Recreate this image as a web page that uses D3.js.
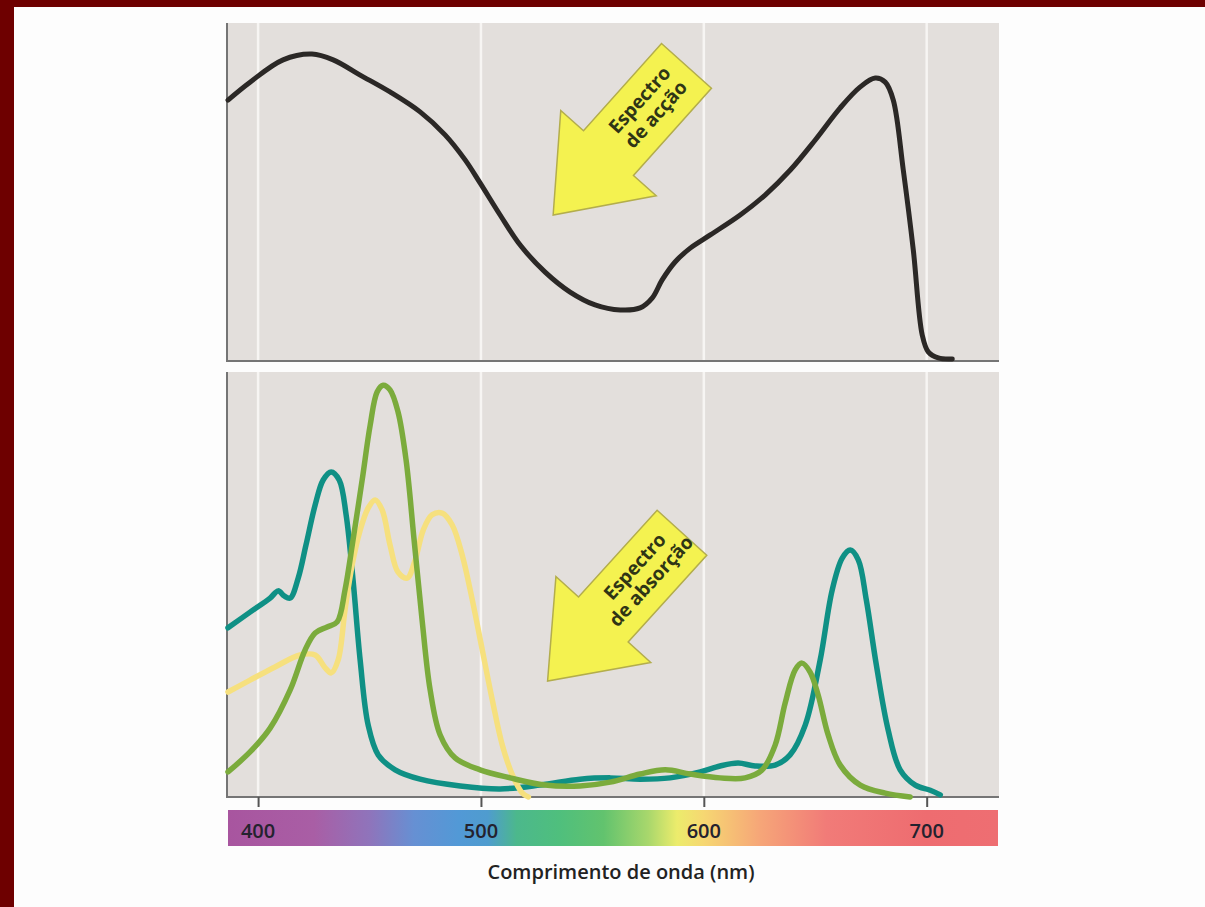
<!DOCTYPE html>
<html>
<head>
<meta charset="utf-8">
<script src="https://cdn.jsdelivr.net/npm/d3@7"></script>
<style>
  body { margin: 0; background: #fdfdfd; }
  svg { display: block; }
  text { font-family: "Open Sans", "DejaVu Sans", sans-serif; }
</style>
</head>
<body>
<script>
var W = 1205, H = 907;

// wavelength ticks
var tickNm = [400, 500, 600, 700];

// action spectrum (top panel), relative units 0-100
var actionNm = [386.5, 396.4, 411.2, 424.2, 433.7, 445.8, 459.2, 472.7, 483.9, 492.9, 499.6, 508.6, 517.6, 528.8, 540.0, 551.2, 562.5, 571.4, 576.8, 581.3, 587.1, 593.9, 602.9, 616.3, 627.5, 638.8, 650.0, 661.2, 670.2, 676.9, 681.4, 685.0, 689.5, 694.0, 698.0, 700.7, 705.2, 711.5];
var actionVal = [77.2, 82.5, 89.1, 90.8, 89.1, 84.6, 79.6, 73.7, 66.9, 59.5, 52.7, 43.2, 34.3, 26.3, 20.4, 16.6, 15.1, 15.7, 18.6, 24.0, 29.3, 33.4, 37.3, 43.2, 49.1, 56.5, 65.4, 74.9, 81.1, 83.7, 82.5, 77.2, 56.5, 32.8, 7.7, 2.7, 0.9, 0.6];

// absorption spectra (bottom panel), relative units 0-100
var chlANm = [386.5, 396.4, 405.4, 409.0, 411.7, 414.4, 418.0, 421.5, 425.6, 429.2, 432.8, 436.4, 439.5, 442.6, 445.8, 449.4, 453.9, 461.5, 472.7, 490.7, 508.6, 526.6, 544.5, 558.0, 571.4, 584.9, 598.4, 607.3, 615.4, 623.0, 632.0, 638.7, 645.5, 652.2, 657.6, 662.1, 665.7, 669.3, 672.9, 677.4, 682.7, 688.1, 694.9, 701.6, 706.1];
var chlAVal = [39.8, 43.5, 46.8, 48.5, 47.3, 46.8, 51.5, 59.3, 68.7, 74.6, 76.5, 74.6, 66.4, 51.1, 32.2, 16.9, 9.9, 6.4, 4.2, 2.6, 1.9, 2.8, 4.2, 4.5, 4.2, 4.5, 5.9, 7.3, 8.0, 7.3, 7.5, 9.9, 16.9, 32.2, 48.7, 56.2, 58.1, 55.8, 46.4, 31.1, 15.8, 6.4, 2.8, 1.6, 0.5];

var chlBNm = [386.5, 396.4, 405.4, 414.4, 421.1, 425.6, 431.0, 435.5, 439.0, 442.6, 446.7, 450.3, 453.4, 456.1, 459.2, 462.8, 466.4, 470.0, 473.6, 477.2, 481.7, 488.4, 499.6, 513.1, 528.8, 544.5, 558.0, 571.4, 582.7, 593.9, 607.3, 618.5, 626.2, 632.0, 636.5, 641.0, 644.1, 647.7, 651.3, 655.8, 661.2, 670.2, 681.4, 692.6];
var chlBVal = [5.9, 10.6, 16.2, 25.2, 34.6, 38.6, 40.0, 41.2, 48.7, 60.5, 74.6, 87.5, 95.3, 96.9, 95.8, 90.6, 79.3, 60.5, 41.6, 25.2, 14.6, 9.2, 6.4, 4.5, 2.8, 2.6, 3.5, 5.4, 6.4, 5.4, 4.5, 4.5, 6.4, 12.2, 22.1, 29.9, 31.5, 29.4, 24.0, 14.6, 7.5, 2.8, 0.9, 0];

var carotNm = [386.5, 396.4, 407.6, 418.8, 425.6, 430.1, 432.8, 435.9, 439.0, 442.2, 445.8, 449.4, 452.5, 455.7, 459.2, 462.8, 466.9, 470.5, 474.1, 478.1, 482.6, 487.1, 491.6, 496.1, 500.6, 505.1, 509.6, 514.1, 518.6, 521.3];
var carotVal = [24.7, 27.5, 30.6, 33.4, 33.4, 30.4, 29.2, 32.2, 44.0, 54.6, 62.8, 68.0, 69.9, 67.5, 59.3, 52.9, 51.5, 55.8, 62.8, 66.4, 66.8, 64.0, 56.9, 46.4, 34.6, 22.8, 12.2, 5.2, 0.9, 0];

// visible spectrum bar
var specNm = [386.5, 425, 450, 470, 490, 503, 516, 535, 555, 575, 588, 600, 625, 655, 700, 732];
var specColor = ["#a8559f", "#a95ea5", "#8f74bb", "#6690d3", "#5299d6", "#4f9ccf", "#4cb88c", "#4fbf7d", "#62c36e", "#a8d76c", "#ecec6c", "#f6d772", "#f6a678", "#f17b78", "#ee6c70", "#ee6e72"];

var svg = d3.select("body").append("svg")
  .attr("width", W)
  .attr("height", H);

svg.append("rect").attr("width", W).attr("height", H).attr("fill", "#fdfdfd");
// dark red frame
svg.append("rect").attr("x", 0).attr("y", 0).attr("width", W).attr("height", 7).attr("fill", "#6e0000");
svg.append("rect").attr("x", 0).attr("y", 0).attr("width", 14).attr("height", H).attr("fill", "#6e0000");

var left = 228, right = 998;
var x = d3.scaleLinear().domain([386.5, 732]).range([left, right]);
var yTop = d3.scaleLinear().domain([0, 100]).range([361, 23]);
var yBot = d3.scaleLinear().domain([0, 100]).range([797, 372]);

function panel(y) {
  var g = svg.append("g");
  var y0 = y.range()[1], y1 = y.range()[0];
  g.append("rect")
    .attr("x", left).attr("y", y0)
    .attr("width", right - left + 1).attr("height", y1 - y0)
    .attr("fill", "#e3dfdc");
  g.selectAll(".grid")
    .data(tickNm)
    .enter().append("line")
    .attr("x1", d => x(d)).attr("x2", d => x(d))
    .attr("y1", y0).attr("y2", y1)
    .attr("stroke", "#f7f5f3")
    .attr("stroke-width", 2.5);
  g.append("line")
    .attr("x1", left - 1).attr("x2", left - 1)
    .attr("y1", y0).attr("y2", y1)
    .attr("stroke", "#757575").attr("stroke-width", 2);
  g.append("line")
    .attr("x1", left - 2).attr("x2", right + 1)
    .attr("y1", y1).attr("y2", y1)
    .attr("stroke", "#757575").attr("stroke-width", 2);
  return g;
}

var topG = panel(yTop);
var botG = panel(yBot);

function drawLine(g, y, xs, vs, color, w) {
  var pts = xs.map((d, i) => [d, vs[i]]);
  var line = d3.line()
    .x(d => x(d[0]))
    .y(d => y(d[1]))
    .curve(d3.curveCatmullRom.alpha(0.5));
  g.append("path")
    .attr("d", line(pts))
    .attr("fill", "none")
    .attr("stroke", color)
    .attr("stroke-width", w)
    .attr("stroke-linecap", "round")
    .attr("stroke-linejoin", "round");
}

drawLine(topG, yTop, actionNm, actionVal, "#2b2826", 5);
drawLine(botG, yBot, chlANm, chlAVal, "#0f9085", 5.5);
drawLine(botG, yBot, carotNm, carotVal, "#f6e07e", 5.5);
drawLine(botG, yBot, chlBNm, chlBVal, "#7bab3c", 5.5);

// arrows
function arrow(tipNm, tipV, y, angle, lines) {
  var L = 200, hl = 83, hw = 128, sw = 67;
  var pts = [[0, 0], [hl, -hw / 2], [hl, -sw / 2], [L, -sw / 2], [L, sw / 2], [hl, sw / 2], [hl, hw / 2]];
  var g = svg.append("g")
    .attr("transform", `translate(${x(tipNm)},${y(tipV)}) rotate(${angle})`);
  g.append("polygon")
    .attr("points", pts.map(p => p.join(",")).join(" "))
    .attr("fill", "#f4f250")
    .attr("stroke", "#b3ad4c")
    .attr("stroke-width", 1.5)
    .attr("stroke-linejoin", "miter");
  var cx = hl + (L - hl) / 2 + 2;
  var t = g.append("text")
    .attr("y", 0)
    .attr("text-anchor", "middle")
    .attr("font-size", 19)
    .attr("font-weight", 700)
    .attr("fill", "#2f3515");
  t.append("tspan").attr("x", cx).attr("dy", "-0.3em").text(lines[0]);
  t.append("tspan").attr("x", cx).attr("dy", "1.15em").text(lines[1]);
}

arrow(532.4, 43.2, yTop, -48.2, ["Espectro", "de acção"]);
arrow(529.9, 27.3, yBot, -47.8, ["Espectro", "de absorção"]);

// axis ticks under the bottom panel
var axis = d3.axisBottom(x).tickValues(tickNm).tickSize(10).tickFormat("");
var ax = svg.append("g").attr("transform", "translate(0,797)").call(axis);
ax.select(".domain").remove();
ax.selectAll(".tick line").attr("stroke", "#555").attr("stroke-width", 2);

// spectrum bar
var grad = svg.append("defs").append("linearGradient")
  .attr("id", "spec")
  .attr("gradientUnits", "userSpaceOnUse")
  .attr("x1", left).attr("x2", right)
  .attr("y1", 0).attr("y2", 0);
grad.selectAll("stop")
  .data(specNm)
  .enter().append("stop")
  .attr("offset", d => (x(d) - left) / (right - left))
  .attr("stop-color", (d, i) => specColor[i]);

svg.append("rect")
  .attr("x", left).attr("y", 810)
  .attr("width", right - left).attr("height", 36)
  .attr("fill", "url(#spec)");

svg.selectAll(".specLabel")
  .data(tickNm)
  .enter().append("text")
  .attr("x", d => x(d))
  .attr("y", 838)
  .attr("text-anchor", "middle")
  .attr("font-size", 20)
  .attr("font-weight", 600)
  .attr("fill", "#24222e")
  .text(d => d);

svg.append("text")
  .attr("x", 621)
  .attr("y", 879)
  .attr("text-anchor", "middle")
  .attr("font-size", 20)
  .attr("font-weight", 600)
  .attr("fill", "#222")
  .text("Comprimento de onda (nm)");
</script>
</body>
</html>
